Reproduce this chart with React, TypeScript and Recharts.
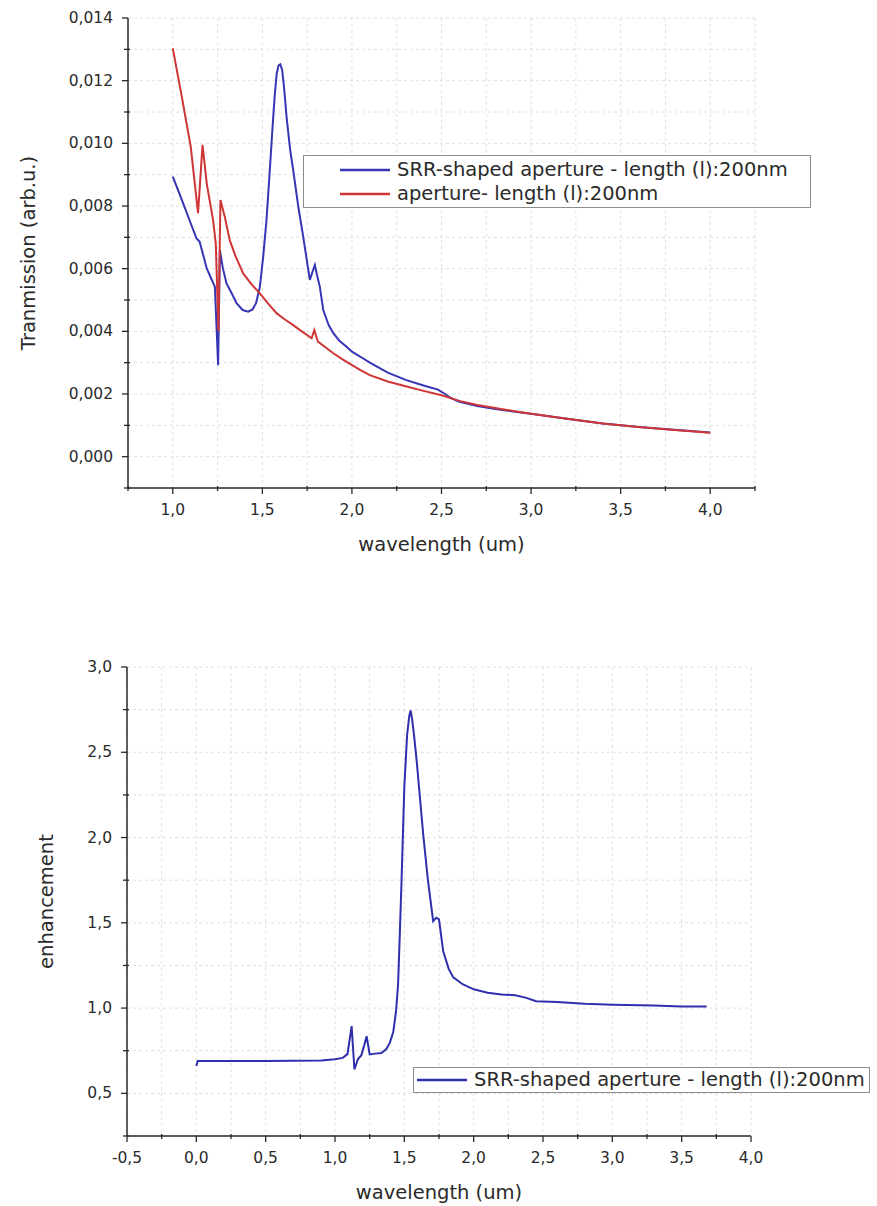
import React from 'react';
import { LineChart, Line, XAxis, YAxis, CartesianGrid, Legend } from 'recharts';

// ---------- Top chart data ----------
const srrWavelength = [1.0, 1.05, 1.1, 1.132, 1.15, 1.19, 1.235, 1.253, 1.263, 1.28, 1.3, 1.33, 1.356, 1.39, 1.421, 1.445, 1.465, 1.486, 1.505, 1.523, 1.54, 1.555, 1.568, 1.58, 1.59, 1.6, 1.61, 1.62, 1.635, 1.655, 1.672, 1.7, 1.728, 1.75, 1.765, 1.78, 1.793, 1.805, 1.821, 1.84, 1.87, 1.896, 1.93, 1.97, 2.0, 2.05, 2.1, 2.2, 2.3, 2.4, 2.48, 2.52, 2.55, 2.6, 2.7, 2.8, 2.9, 3.0, 3.2, 3.4, 3.6, 3.8, 4.0];
const srrTransmission = [0.00894, 0.0082, 0.00745, 0.00697, 0.00686, 0.006, 0.00542, 0.00292, 0.00659, 0.006, 0.00553, 0.0052, 0.0049, 0.00468, 0.00463, 0.0047, 0.0049, 0.00542, 0.0064, 0.00755, 0.009, 0.01035, 0.01145, 0.01222, 0.01248, 0.01252, 0.01236, 0.01185, 0.01085, 0.0098, 0.00915, 0.008, 0.00702, 0.0062, 0.00564, 0.0059, 0.00612, 0.0058, 0.00542, 0.00468, 0.0042, 0.00394, 0.0037, 0.00351, 0.00335, 0.00318, 0.003, 0.00268, 0.00245, 0.00227, 0.00214, 0.002, 0.00188, 0.00175, 0.00162, 0.00152, 0.00144, 0.00137, 0.00121, 0.00106, 0.00095, 0.00086, 0.00077];

const apWavelength = [1.0, 1.05, 1.1, 1.141, 1.166, 1.19, 1.225, 1.24, 1.255, 1.266, 1.29, 1.318, 1.35, 1.393, 1.44, 1.486, 1.53, 1.579, 1.62, 1.672, 1.72, 1.775, 1.79, 1.81, 1.85, 1.896, 1.95, 2.045, 2.1, 2.2, 2.3, 2.4, 2.5, 2.6, 2.7, 2.8, 2.9, 3.0, 3.2, 3.4, 3.6, 3.8, 4.0];
const apTransmission = [0.01303, 0.0115, 0.0099, 0.00777, 0.00995, 0.0087, 0.00755, 0.0068, 0.004, 0.00819, 0.00766, 0.00691, 0.0064, 0.00585, 0.0055, 0.00521, 0.0049, 0.00458, 0.0044, 0.0042, 0.004, 0.00378, 0.00404, 0.00367, 0.0035, 0.0033, 0.0031, 0.00277, 0.0026, 0.0024, 0.00225, 0.0021, 0.00196, 0.00178, 0.00165, 0.00155, 0.00146, 0.00137, 0.00121, 0.00106, 0.00095, 0.00085, 0.00076];

const topXTicks = [0.75, 1.0, 1.25, 1.5, 1.75, 2.0, 2.25, 2.5, 2.75, 3.0, 3.25, 3.5, 3.75, 4.0, 4.25];
const topXLabels = [1.0, 1.5, 2.0, 2.5, 3.0, 3.5, 4.0];
const topYTicks = [-0.001, 0, 0.001, 0.002, 0.003, 0.004, 0.005, 0.006, 0.007, 0.008, 0.009, 0.01, 0.011, 0.012, 0.013, 0.014];
const topYLabels = [0, 0.002, 0.004, 0.006, 0.008, 0.01, 0.012, 0.014];

// ---------- Bottom chart data ----------
const enhWavelength = [0.0, 0.01, 0.5, 0.9, 1.0, 1.056, 1.09, 1.12, 1.14, 1.165, 1.19, 1.21, 1.228, 1.25, 1.29, 1.335, 1.37, 1.395, 1.42, 1.44, 1.455, 1.468, 1.48, 1.5, 1.52, 1.535, 1.545, 1.555, 1.57, 1.589, 1.636, 1.67, 1.708, 1.73, 1.75, 1.78, 1.82, 1.853, 1.92, 2.0, 2.1, 2.2, 2.3, 2.38, 2.45, 2.6, 2.8, 3.0, 3.3, 3.5, 3.68];
const enhValue = [0.66, 0.69, 0.69, 0.692, 0.7, 0.708, 0.73, 0.894, 0.64, 0.7, 0.724, 0.78, 0.835, 0.728, 0.733, 0.737, 0.76, 0.796, 0.86, 0.98, 1.14, 1.45, 1.75, 2.3, 2.6, 2.71, 2.745, 2.7, 2.6, 2.45, 2.02, 1.75, 1.51, 1.53, 1.52, 1.335, 1.23, 1.18, 1.14, 1.11, 1.09, 1.08, 1.075, 1.06, 1.04, 1.035, 1.025, 1.02, 1.015, 1.01, 1.01];

const botXTicks = [-0.5, -0.25, 0, 0.25, 0.5, 0.75, 1.0, 1.25, 1.5, 1.75, 2.0, 2.25, 2.5, 2.75, 3.0, 3.25, 3.5, 3.75, 4.0];
const botXLabels = [-0.5, 0, 0.5, 1.0, 1.5, 2.0, 2.5, 3.0, 3.5, 4.0];
const botYTicks = [0.25, 0.5, 0.75, 1.0, 1.25, 1.5, 1.75, 2.0, 2.25, 2.5, 2.75, 3.0];
const botYLabels = [0.5, 1.0, 1.5, 2.0, 2.5, 3.0];

const srrName = 'SRR-shaped aperture - length (l):200nm';
const apName = 'aperture- length (l):200nm';

const srrData = srrWavelength.map((x, i) => ({ x, y: srrTransmission[i] }));
const apData = apWavelength.map((x, i) => ({ x, y: apTransmission[i] }));
const enhData = enhWavelength.map((x, i) => ({ x, y: enhValue[i] }));

const FONT = '"DejaVu Sans", Verdana, sans-serif';
const TXT = '#2a2a2a';
const fmt = (v: number, d: number) => v.toFixed(d).replace('.', ',');
const isIn = (v: number, arr: number[]) => arr.some((a) => Math.abs(a - v) < 1e-9);

const XTick = (props: any) => {
  const { x, y, payload, labels, decimals } = props;
  const v = payload.value;
  const major = isIn(v, labels);
  return (
    <g>
      <line x1={x} x2={x} y1={major ? y : y - 2} y2={y + (major ? 6 : 3)} stroke={TXT} strokeWidth={1.3} />
      {major && (
        <text x={x} y={y + 22} textAnchor="middle" dominantBaseline="central" fontSize={15.5} fill={TXT} fontFamily={FONT}>
          {fmt(v, decimals)}
        </text>
      )}
    </g>
  );
};

const YTick = (props: any) => {
  const { x, y, payload, labels, decimals } = props;
  const v = payload.value;
  const major = isIn(v, labels);
  return (
    <g>
      <line x1={x - (major ? 6 : 4)} x2={major ? x : x + 2} y1={y} y2={y} stroke={TXT} strokeWidth={1.3} />
      {major && (
        <text x={x - 15} y={y} textAnchor="end" dominantBaseline="central" fontSize={15.5} fill={TXT} fontFamily={FONT}>
          {fmt(v, decimals)}
        </text>
      )}
    </g>
  );
};

const LegendBox = (props: any) => {
  const { payload, width, height, padLeft } = props;
  const items = (payload || []) as any[];
  return (
    <div
      style={{
        width,
        height,
        boxSizing: 'border-box',
        border: '1px solid #8c8c8c',
        background: '#fff',
        paddingLeft: padLeft,
        paddingTop: items.length > 1 ? 2 : 0,
        fontFamily: FONT,
      }}
    >
      {items.map((it, i) => (
        <div key={i} style={{ display: 'flex', alignItems: 'center', height: items.length > 1 ? 24 : height - 2 }}>
          <svg width={52} height={10} style={{ flex: 'none' }}>
            <line x1={0} x2={50} y1={5} y2={5} stroke={it.color} strokeWidth={2.5} />
          </svg>
          <span style={{ fontSize: 19.5, color: TXT, marginLeft: 5, whiteSpace: 'nowrap', lineHeight: 1 }}>{it.value}</span>
        </div>
      ))}
    </div>
  );
};

const labelStyle = { fontSize: 19.5, fill: TXT, fontFamily: FONT };

export default function App() {
  return (
    <div style={{ position: 'absolute', left: 0, top: 0, width: 877, height: 1206, background: '#fff', fontFamily: FONT }}>
      <div style={{ position: 'absolute', left: 0, top: 0 }}>
        <LineChart width={877} height={590} margin={{ top: 18, right: 122, bottom: 32, left: 0 }}>
          <CartesianGrid stroke="#e0e0e0" strokeDasharray="3 3" />
          <XAxis
            type="number"
            dataKey="x"
            domain={[0.75, 4.25]}
            ticks={topXTicks}
            allowDataOverflow
            height={70}
            tickSize={0}
            tickMargin={0}
            tickLine={false}
            axisLine={{ stroke: TXT, strokeWidth: 1.5 }}
            tick={<XTick labels={topXLabels} decimals={1} />}
            label={{ value: 'wavelength (um)', position: 'insideBottom', offset: 7, style: labelStyle }}
          />
          <YAxis
            type="number"
            domain={[-0.001, 0.014]}
            ticks={topYTicks}
            allowDataOverflow
            width={128}
            tickSize={0}
            tickMargin={0}
            tickLine={false}
            axisLine={{ stroke: TXT, strokeWidth: 1.5 }}
            tick={<YTick labels={topYLabels} decimals={3} />}
            label={{ value: 'Tranmission (arb.u.)', angle: -90, position: 'insideLeft', offset: 28, style: { ...labelStyle, textAnchor: 'middle' } }}
          />
          <Legend
            layout="vertical"
            align="center"
            verticalAlign="middle"
            wrapperStyle={{ position: 'absolute', left: 303, top: 155, width: 508, height: 53 }}
            content={(p: any) => <LegendBox payload={p.payload} width={508} height={53} padLeft={36} />}
          />
          <Line data={srrData} dataKey="y" name={srrName} type="linear" stroke="#3535b5" strokeWidth={2} dot={false} isAnimationActive={false} />
          <Line data={apData} dataKey="y" name={apName} type="linear" stroke="#cf3535" strokeWidth={2} dot={false} isAnimationActive={false} />
        </LineChart>
      </div>
      <div style={{ position: 'absolute', left: 0, top: 600 }}>
        <LineChart width={877} height={606} margin={{ top: 67, right: 126, bottom: 0, left: 0 }}>
          <CartesianGrid stroke="#e0e0e0" strokeDasharray="3 3" />
          <XAxis
            type="number"
            dataKey="x"
            domain={[-0.5, 4.0]}
            ticks={botXTicks}
            allowDataOverflow
            height={70}
            tickSize={0}
            tickMargin={0}
            tickLine={false}
            axisLine={{ stroke: TXT, strokeWidth: 1.5 }}
            tick={<XTick labels={botXLabels} decimals={1} />}
            label={{ value: 'wavelength (um)', position: 'insideBottom', offset: 7, style: labelStyle }}
          />
          <YAxis
            type="number"
            domain={[0.25, 3.0]}
            ticks={botYTicks}
            allowDataOverflow
            width={127}
            tickSize={0}
            tickMargin={0}
            tickLine={false}
            axisLine={{ stroke: TXT, strokeWidth: 1.5 }}
            tick={<YTick labels={botYLabels} decimals={1} />}
            label={{ value: 'enhancement', angle: -90, position: 'insideLeft', offset: 46, style: { ...labelStyle, textAnchor: 'middle' } }}
          />
          <Legend
            layout="vertical"
            align="center"
            verticalAlign="middle"
            wrapperStyle={{ position: 'absolute', left: 413, top: 467, width: 457, height: 26 }}
            content={(p: any) => <LegendBox payload={p.payload} width={457} height={26} padLeft={3} />}
          />
          <Line data={enhData} dataKey="y" name={srrName} type="linear" stroke="#2f2fae" strokeWidth={2} dot={false} isAnimationActive={false} />
        </LineChart>
      </div>
    </div>
  );
}
